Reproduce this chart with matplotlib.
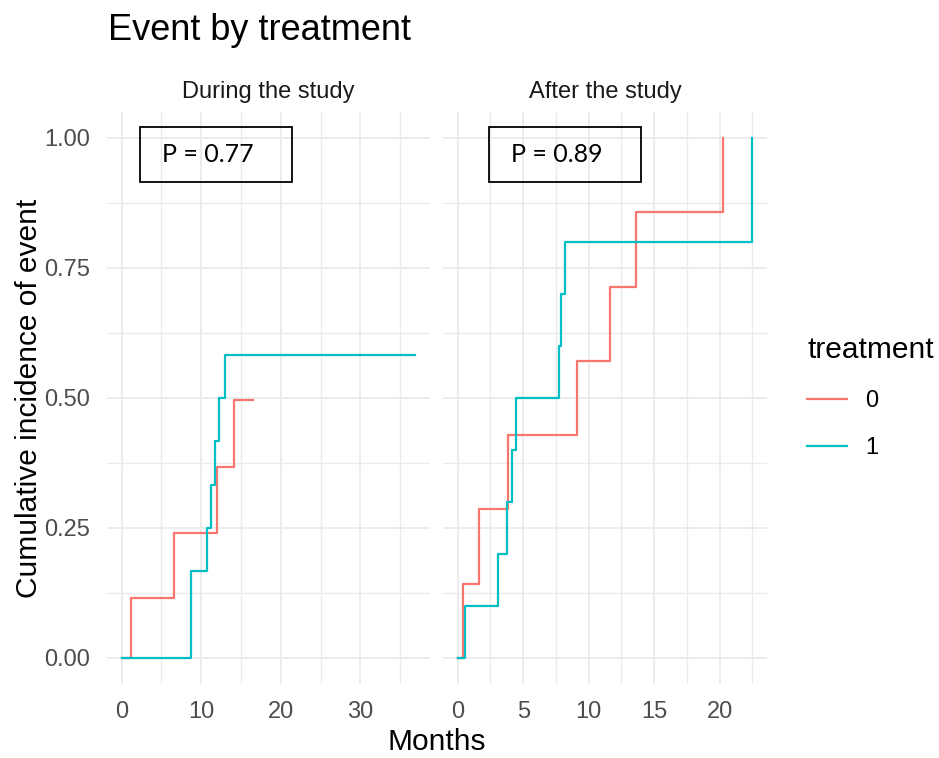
import numpy as np
from matplotlib import pyplot as plt
from matplotlib.lines import Line2D
from matplotlib.patches import Rectangle

plt.rcParams.update({
    'font.family': ['Liberation Sans', 'DejaVu Sans'],
    'font.size': 17,
})

RED = '#F8766D'
CYAN = '#00BFC4'

panel_titles = ['During the study', 'After the study']
p_labels = ['P = 0.77', 'P = 0.89']
treatments = ['0', '1']

# cumulative incidence step curves
during_t0_time = [0, 1.2, 6.6, 12.0, 14.1, 16.5]
during_t0_cif = [0, 0.115, 0.240, 0.367, 0.496, 0.496]
during_t1_time = [0, 8.7, 10.7, 11.2, 11.7, 12.2, 13.0, 36.9]
during_t1_cif = [0, 0.167, 0.250, 0.333, 0.417, 0.500, 0.583, 0.583]

after_t0_time = [0, 0.43, 1.66, 3.84, 9.1, 11.6, 13.6, 20.3]
after_t0_cif = [0, 0.143, 0.286, 0.429, 0.571, 0.714, 0.857, 1.0]
after_t1_time = [0, 0.59, 3.07, 3.73, 4.14, 4.48, 7.75, 7.9, 8.2, 22.5]
after_t1_cif = [0, 0.1, 0.2, 0.3, 0.4, 0.5, 0.6, 0.7, 0.8, 1.0]

y_ticks = [0, 0.25, 0.5, 0.75, 1.0]
x_ticks = [[0, 10, 20, 30], [0, 5, 10, 15, 20]]
x_minor = [[5, 15, 25, 35], [2.5, 7.5, 12.5, 17.5, 22.5]]

curves = [
    [(during_t0_time, during_t0_cif), (during_t1_time, during_t1_cif)],
    [(after_t0_time, after_t0_cif), (after_t1_time, after_t1_cif)],
]

W, H = 939, 758
fig = plt.figure(figsize=(W / 100, H / 100), dpi=100)

def px_axes(x0, y0, x1, y1):
    return fig.add_axes([x0 / W, 1 - y1 / H, (x1 - x0) / W, (y1 - y0) / H])

axes = [px_axes(107, 112, 430, 684), px_axes(443, 112, 767, 684)]

for i, ax in enumerate(axes):
    for (t, c), col in zip(curves[i], [RED, CYAN]):
        ax.step(t, c, where='post', color=col, lw=1.6)

    xmax = max(max(t) for t, _ in curves[i])
    pad = xmax * 0.05
    ax.set_xlim(-pad, xmax + pad)
    ax.set_ylim(-0.05, 1.05)

    ax.set_xticks(x_ticks[i])
    ax.set_xticks(x_minor[i], minor=True)
    ax.set_yticks(y_ticks)
    ax.set_yticks([0.125, 0.375, 0.625, 0.875], minor=True)
    ax.grid(True, which='major', color='#EBEBEB', lw=1.3)
    ax.grid(True, which='minor', color='#EBEBEB', lw=1.0)
    ax.set_axisbelow(True)
    for s in ax.spines.values():
        s.set_visible(False)
    ax.tick_params(which='both', length=0, labelsize=17, labelcolor='#4D4D4D')
    ax.tick_params(axis='x', pad=12)
    ax.tick_params(axis='y', pad=12)
    if i == 0:
        ax.set_yticklabels(['0.00', '0.25', '0.50', '0.75', '1.00'])
    else:
        ax.set_yticklabels([])
    ax.set_title(panel_titles[i], fontsize=17, color='#1A1A1A', pad=10)

    bx0 = 0.102 if i == 0 else 0.142
    bx1 = 0.573 if i == 0 else 0.611
    ax.add_patch(Rectangle((bx0, 0.878), bx1 - bx0, 0.096, transform=ax.transAxes,
                           fill=False, edgecolor='black', lw=1.3, clip_on=False))
    ax.text(bx0 + 0.068, 0.926, p_labels[i], transform=ax.transAxes,
            family='Lato', fontsize=18, va='center', ha='left', color='black')

fig.text(108 / W, 1 - 31 / H, 'Event by treatment', fontsize=26, ha='left', va='center')
fig.text(437 / W, 1 - 742 / H, 'Months', fontsize=21.5, ha='center', va='center')
fig.text(29 / W, 1 - 398 / H, 'Cumulative incidence of event', fontsize=21.5,
         rotation=90, ha='center', va='center')

handles = [Line2D([], [], color=RED, lw=1.6), Line2D([], [], color=CYAN, lw=1.6)]
leg = fig.legend(handles, treatments, title='treatment', loc='upper left',
                 bbox_to_anchor=(807 / W, 1 - 336 / H), frameon=False, fontsize=17,
                 title_fontsize=21.5, handlelength=1.7, handletextpad=0.75,
                 labelspacing=1.05, alignment='left', borderpad=0,
                 borderaxespad=0)
leg._legend_box.sep = 19

plt.savefig('out.png', dpi=100)
